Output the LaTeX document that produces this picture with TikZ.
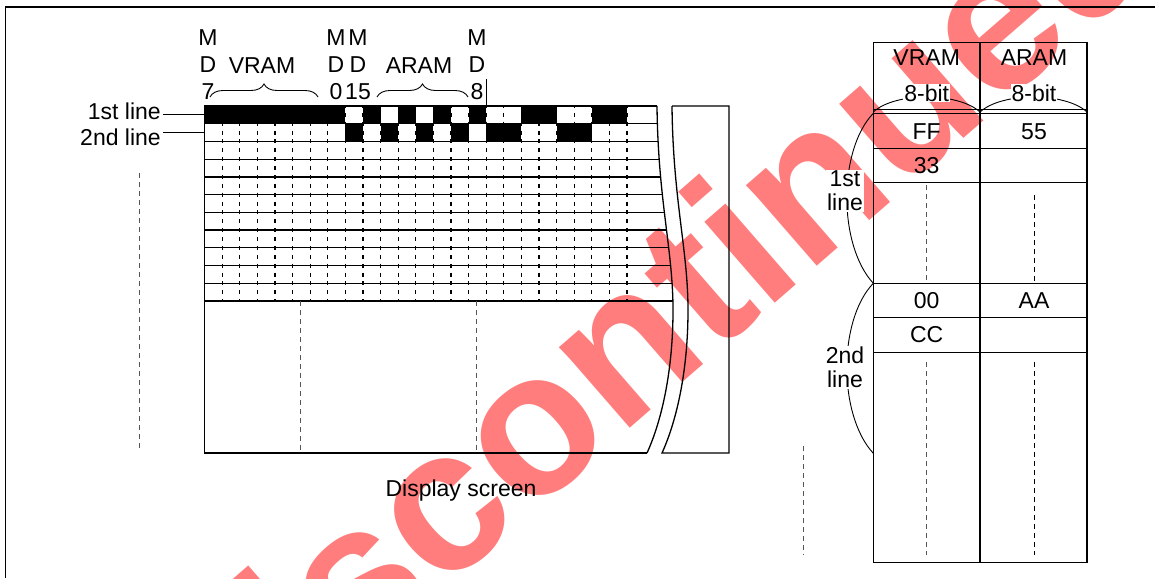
\documentclass[tikz,border=0pt]{standalone}
\usepackage{fontspec}
\setmainfont{Liberation Sans}
\usetikzlibrary{decorations.pathreplacing}
\definecolor{wmred}{RGB}{255,125,125}
\definecolor{dashgray}{RGB}{85,85,85}

\begin{document}
\begin{tikzpicture}[x=1pt, y=-1pt,
    lbl/.style={font=\fontsize{23}{27}\selectfont, inner sep=2pt, align=center},
    side/.style={lbl, font=\fontsize{23}{24}\selectfont, fill=white, inner sep=1pt},
    gridline/.style={line width=1.3pt},
    tbl/.style={line width=1.4pt},
    tick/.style={line width=1.2pt, dash pattern=on 4pt off 4.87pt, dash phase=2pt},
    guide/.style={line width=1pt, dashgray, dash pattern=on 5pt off 4pt},
    bdash/.style={line width=1pt, dash pattern=on 5pt off 4pt},
    thin/.style={line width=0.9pt}
]
\useasboundingbox (0,0) rectangle (1155,578);

% watermark behind everything
\begin{scope}
    \clip (0,0) rectangle (1155,578);
    \node[font=\fontsize{203}{203}\selectfont\bfseries, text=wmred, rotate=41] (wm) at (640,324) {Discontinued};
\end{scope}

% frame
\draw[line width=1.4pt] (5.5,578) -- (5.5,7) -- (1155,7);

% display grid
\begin{scope}
    \clip (204.5,106) -- (657,106) .. controls (658,200) and (673,250) .. (673,310)
        .. controls (673,370) and (662,420) .. (647,453) -- (204.5,453) -- cycle;
    \foreach \c in {0,1,2,3,4,5,6,7,9,11,13,15,18,19,22,23}
        \fill ({204.5+17.6*\c},106) rectangle ++(17.6,17.73);
    \foreach \c in {8,10,12,14,16,17,20,21}
        \fill ({204.5+17.6*\c},123.73) rectangle ++(17.6,17.73);
    \foreach \k in {1,...,24}
        \draw[tick] ({204.5+17.6*\k},106) -- ({204.5+17.6*\k},301);
    \foreach \j in {1,...,11}
        \draw[gridline] (204.5,{106+17.73*\j}) -- (700,{106+17.73*\j});
\end{scope}
\draw[guide] (300.7,301) -- (300.7,453);
\draw[guide] (476.7,301) -- (476.7,453);
\draw[gridline] (657,106) -- (204.5,106) -- (204.5,453) -- (647,453);
\draw[gridline] (657,106) .. controls (658,200) and (673,250) .. (673,310)
    .. controls (673,370) and (662,420) .. (647,453);
\draw[gridline] (672,106) -- (729,106) -- (729,453) -- (662,453)
    .. controls (677,420) and (688,370) .. (688,310)
    .. controls (688,250) and (673,200) .. (672,106);

% bit labels above the grid
\node[lbl] (md7) at (208,64.5) {M\\D\\7};
\node[lbl] (md0) at (336,64.5) {M\\D\\0};
\node[lbl] (md15) at (358,64.5) {M\\D\\15};
\node[lbl] (md8) at (477,64.5) {M\\D\\8};
\node[lbl] (vram) at (262,66) {VRAM};
\node[lbl] (aram) at (419,66) {ARAM};
\coordinate (vb1) at (210,97);
\coordinate (vb2) at (318,97);
\coordinate (ab1) at (377,97);
\coordinate (ab2) at (468,97);
\draw[thin, decorate, decoration={brace, amplitude=13pt}] (vb1) -- (vb2);
\draw[thin, decorate, decoration={brace, amplitude=13pt}] (ab1) -- (ab2);
\coordinate (mk1) at (486,79);
\coordinate (mk2) at (486,106);
\draw[thin] (mk1) -- (mk2);

% line labels
\node[lbl, anchor=east] (first) at (163,111) {1st line};
\node[lbl, anchor=east] (second) at (163,137) {2nd line};
\coordinate (row1) at (204.5,114);
\coordinate (row2) at (204.5,132.5);
\draw[thin] (first.east |- row1) -- (row1);
\draw[thin] (second.east |- row2) -- (row2);
\draw[guide] (139,173) -- (139,450);
\node[lbl] (screen) at (461,491) {Display screen};

% memory table
\draw[tbl] (873.3,42.3) rectangle (1087,562.7);
\draw[tbl] (980,42.3) -- (980,562.7);
\foreach \y in {109.5,113.5,148.3,182.7,283.3,317.7,352.3}
    \draw[tbl] (873.3,\y) -- (1087,\y);
\draw[thin] (873.3,112) .. controls (895,92) and (958,92) .. (980,112);
\draw[thin] (980,112) .. controls (1002,92) and (1065,92) .. (1087,112);
\node[lbl] (tvram) at (926.7,58) {VRAM};
\node[lbl] (taram) at (1034,58) {ARAM};
\node[lbl, fill=white, inner sep=1pt] (vbit) at (926.7,93) {8-bit};
\node[lbl, fill=white, inner sep=1pt] (abit) at (1034,93) {8-bit};
\node[lbl] (ff) at (926.7,131.5) {FF};
\node[lbl] (h55) at (1034,131.5) {55};
\node[lbl] (h33) at (926.7,165.5) {33};
\node[lbl] (h00) at (926.7,301) {00};
\node[lbl] (aa) at (1034,301) {AA};
\node[lbl] (cc) at (926.7,335) {CC};
\draw[guide] (926.7,185) -- (926.7,282);
\draw[bdash] (1034.3,195) -- (1034.3,282);
\draw[guide] (926.7,362) -- (926.7,555);
\draw[bdash] (1034.3,362) -- (1034.3,555);
\draw[guide] (803.5,446) -- (803.5,555);

% line brackets beside the table
\draw[thin] (873.3,113.3) .. controls (838,150) and (838,245) .. (873.3,283.3);
\draw[thin] (873.3,283.3) .. controls (838,320) and (838,415) .. (873.3,453.3);
\node[side] (firstr) at (845,191) {1st\\line};
\node[side] (secondr) at (845,367.5) {2nd\\line};
\end{tikzpicture}
\end{document}
